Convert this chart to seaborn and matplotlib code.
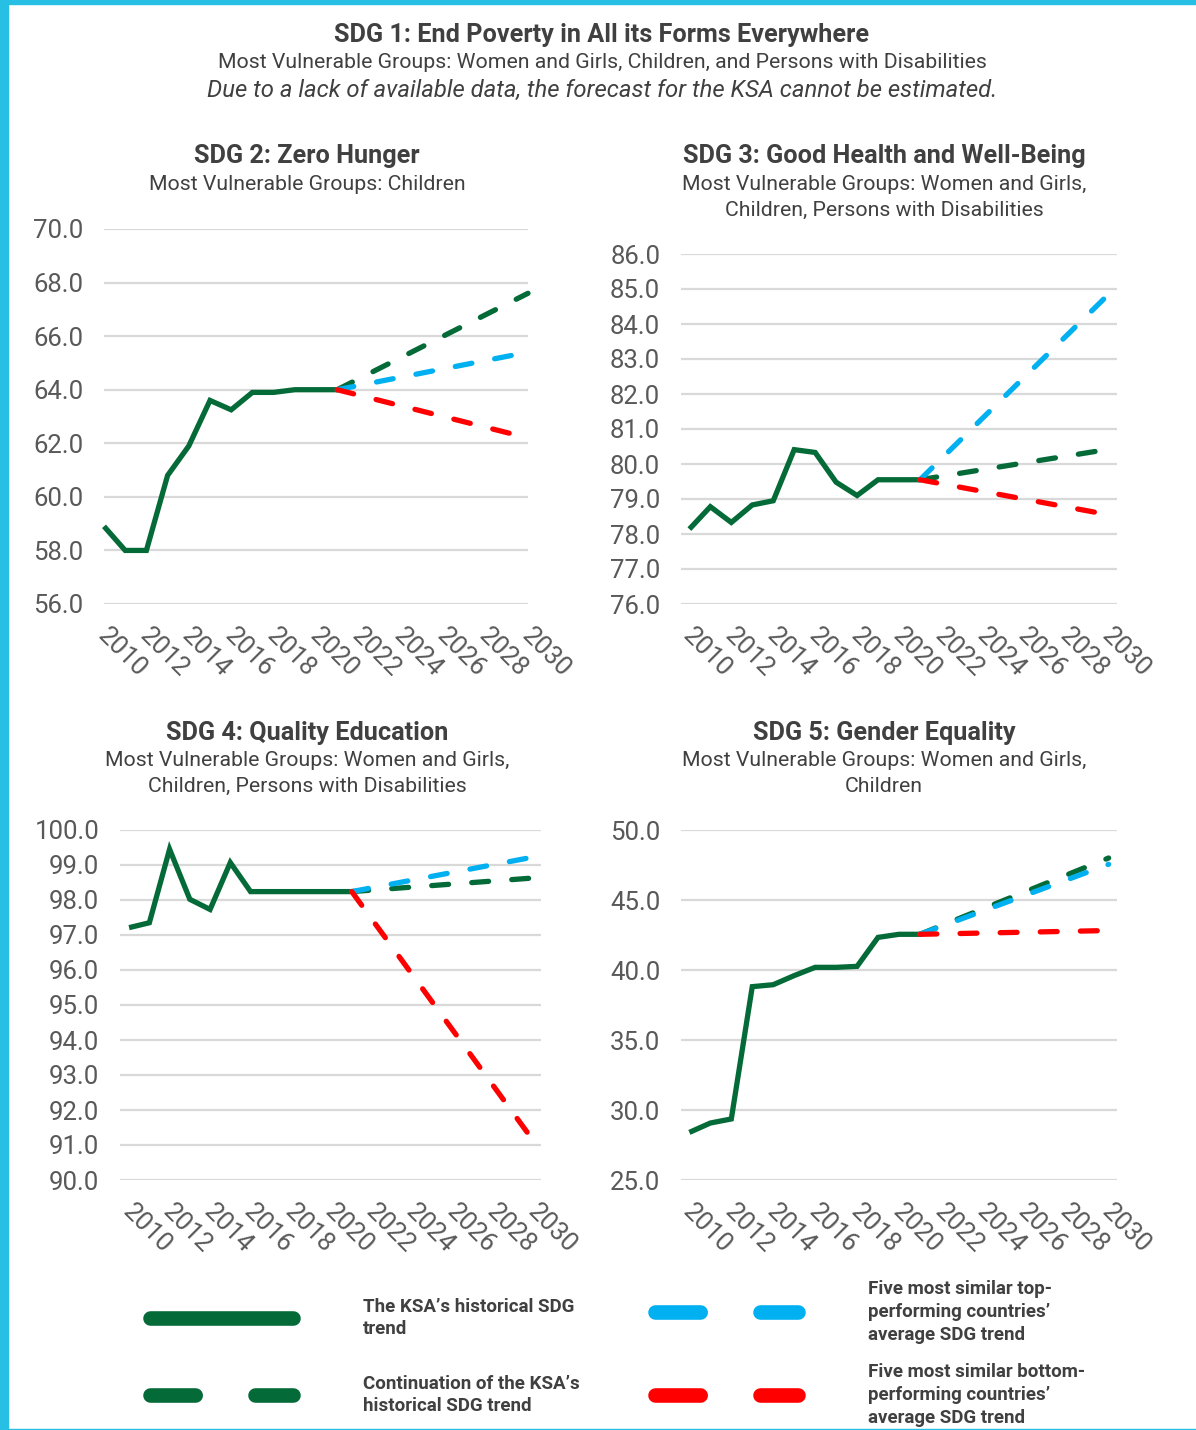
import numpy as np
import pandas as pd
import matplotlib
matplotlib.use("Agg")
import matplotlib.pyplot as plt
import matplotlib.transforms as mtransforms
from matplotlib.lines import Line2D
from matplotlib.patches import Rectangle
import seaborn as sns

# ---------------- data ----------------
years_hist = [2010, 2011, 2012, 2013, 2014, 2015, 2016, 2017, 2018, 2019, 2020, 2021]
years_fc = [2021, 2030]

sdg2_hist = [58.9, 58.0, 58.0, 60.8, 61.9, 63.6, 63.25, 63.9, 63.9, 64.0, 64.0, 64.0]
sdg2_cont = [64.0, 67.6]
sdg2_top = [64.0, 65.4]
sdg2_bottom = [64.0, 62.2]

sdg3_hist = [78.14, 78.78, 78.33, 78.83, 78.95, 80.41, 80.33, 79.48, 79.1, 79.55, 79.55, 79.55]
sdg3_cont = [79.55, 80.42]
sdg3_top = [79.55, 84.85]
sdg3_bottom = [79.55, 78.55]

sdg4_hist = [97.21, 97.35, 99.45, 98.02, 97.73, 99.07, 98.24, 98.24, 98.24, 98.24, 98.24, 98.24]
sdg4_cont = [98.24, 98.63]
sdg4_top = [98.24, 99.23]
sdg4_bottom = [98.24, 91.1]

sdg5_hist = [28.4, 29.07, 29.36, 38.81, 38.95, 39.6, 40.19, 40.19, 40.26, 42.33, 42.55, 42.55]
sdg5_cont = [42.55, 48.0]
sdg5_top = [42.55, 47.55]
sdg5_bottom = [42.55, 42.82]

x_ticks = list(range(2010, 2031, 2))

main_title = "SDG 1: End Poverty in All its Forms Everywhere"
main_sub = "Most Vulnerable Groups: Women and Girls, Children, and Persons with Disabilities"
main_note = "Due to a lack of available data, the forecast for the KSA cannot be estimated."

legend_labels = [
    "The KSA\u2019s historical SDG\ntrend",
    "Continuation of the KSA\u2019s\nhistorical SDG trend",
    "Five most similar top-\nperforming countries\u2019\naverage SDG trend",
    "Five most similar bottom-\nperforming countries\u2019\naverage SDG trend",
]

# ---------------- style ----------------
sns.set_style("white")
plt.rcParams["font.family"] = ["Roboto", "DejaVu Sans"]

GREEN = "#046A38"
BLUE = "#00B0F0"
RED = "#FF0000"
FRAME = "#28BFE4"
TXT = "#404040"
TICK = "#595959"
GRID = "#D9D9D9"

TITLE_FS = 18.2
SUB_FS = 15.3
NOTE_FS = 17.2
TICK_FS = 18.5
LEG_FS = 13.5

W, H = 1196, 1430
fig = plt.figure(figsize=(W / 100, H / 100), dpi=100)


def fx(px):
    return px / W


def fy(py):
    return 1 - py / H


def add_axes(l, t, r, b):
    return fig.add_axes([fx(l), fy(b), fx(r) - fx(l), fy(t) - fy(b)])


panels = [
    dict(box=(104, 229, 528, 604), hist=sdg2_hist, cont=sdg2_cont, top=sdg2_top, bot=sdg2_bottom,
         yt=np.arange(56, 70.1, 2), xlim=(2010, 2030)),
    dict(box=(681, 254, 1117, 604), hist=sdg3_hist, cont=sdg3_cont, top=sdg3_top, bot=sdg3_bottom,
         yt=np.arange(76, 86.1, 1), xlim=(2009.6, 2030.4)),
    dict(box=(120, 830, 541, 1180), hist=sdg4_hist, cont=sdg4_cont, top=sdg4_top, bot=sdg4_bottom,
         yt=np.arange(90, 100.1, 1), xlim=(2009.55, 2030.35)),
    dict(box=(681, 830, 1117, 1180), hist=sdg5_hist, cont=sdg5_cont, top=sdg5_top, bot=sdg5_bottom,
         yt=np.arange(25, 50.1, 5), xlim=(2009.6, 2030.4)),
]

LW = 3.8
DASH = (0, (3.2, 4.4))
label_shift = mtransforms.ScaledTranslation(6 / 100, 0, fig.dpi_scale_trans)

for p in panels:
    ax = add_axes(*p["box"])
    sns.lineplot(x=years_hist, y=p["hist"], ax=ax, color=GREEN, linewidth=LW,
                 estimator=None, sort=False, solid_joinstyle="miter", solid_capstyle="butt")
    for vals, col in [(p["cont"], GREEN), (p["top"], BLUE), (p["bot"], RED)]:
        sns.lineplot(x=years_fc, y=vals, ax=ax, color=col, linewidth=LW, linestyle=DASH,
                     estimator=None, sort=False, dash_capstyle="round")
    ax.set_xlim(*p["xlim"])
    ax.set_ylim(p["yt"][0], p["yt"][-1])
    ax.set_yticks(p["yt"])
    ax.set_yticklabels([f"{v:.1f}" for v in p["yt"]])
    ax.set_xticks(x_ticks)
    ax.set_xticklabels([str(v) for v in x_ticks], rotation=-45, ha="left", va="top",
                       rotation_mode="anchor")
    ax.tick_params(axis="both", length=0, labelsize=TICK_FS, labelcolor=TICK)
    ax.tick_params(axis="y", pad=15)
    ax.tick_params(axis="x", pad=14)
    for lab in ax.get_xticklabels():
        lab.set_transform(lab.get_transform() + label_shift)
    ax.grid(axis="y", color=GRID, linewidth=1.6)
    ax.grid(axis="x", visible=False)
    ax.set_axisbelow(True)
    for s in ax.spines.values():
        s.set_visible(False)
    ax.set_xlabel("")
    ax.set_ylabel("")
    ax.patch.set_alpha(0)
    for ln in ax.lines:
        ln.set_clip_on(False)

# ---------------- titles ----------------
def t(x, y, s, size, weight="normal", style="normal"):
    fig.text(fx(x), fy(y), s, ha="center", va="center", fontsize=size, fontweight=weight,
             fontstyle=style, color=TXT)

t(602, 35, main_title, TITLE_FS, "bold")
t(602, 62, main_sub, SUB_FS)
t(602, 90, main_note, NOTE_FS, style="italic")

t(307, 156, "SDG 2: Zero Hunger", TITLE_FS, "bold")
t(307, 184, "Most Vulnerable Groups: Children", SUB_FS)

t(884, 156, "SDG 3: Good Health and Well-Being", TITLE_FS, "bold")
t(884, 184, "Most Vulnerable Groups: Women and Girls,", SUB_FS)
t(884, 210, "Children, Persons with Disabilities", SUB_FS)

t(307, 733, "SDG 4: Quality Education", TITLE_FS, "bold")
t(307, 760, "Most Vulnerable Groups: Women and Girls,", SUB_FS)
t(307, 786, "Children, Persons with Disabilities", SUB_FS)

t(884, 733, "SDG 5: Gender Equality", TITLE_FS, "bold")
t(884, 760, "Most Vulnerable Groups: Women and Girls,", SUB_FS)
t(884, 786, "Children", SUB_FS)

# ---------------- legend ----------------
LEG_LW = 10.5
LEG_DASH = (0, (3.1, 4.1))
handles = [
    Line2D([], [], color=GREEN, linewidth=LEG_LW, solid_capstyle="round"),
    Line2D([], [], color=GREEN, linewidth=LEG_LW, linestyle=LEG_DASH, dash_capstyle="round"),
    Line2D([], [], color=BLUE, linewidth=LEG_LW, linestyle=LEG_DASH, dash_capstyle="round"),
    Line2D([], [], color=RED, linewidth=LEG_LW, linestyle=LEG_DASH, dash_capstyle="round"),
]
leg_pos = [(150, 1318), (150, 1395), (655, 1312), (655, 1395)]
fs_px = LEG_FS * 100 / 72
for h, lab, (lx, ly) in zip(handles, legend_labels, leg_pos):
    leg = fig.legend([h], [lab], loc="center left", bbox_to_anchor=(fx(lx), fy(ly)),
                     frameon=False, handlelength=143 / fs_px, handletextpad=70 / fs_px,
                     borderpad=0, borderaxespad=0,
                     prop={"weight": "bold", "size": LEG_FS})
    for txt in leg.get_texts():
        txt.set_color(TXT)
        txt.set_linespacing(1.35)

# ---------------- frame ----------------
fig.patches.append(Rectangle((0, 0), fx(8), 1, transform=fig.transFigure, color=FRAME, zorder=10))
fig.patches.append(Rectangle((0, fy(4)), 1, 4 / H, transform=fig.transFigure, color=FRAME, zorder=10))
fig.patches.append(Rectangle((0, 0), 1, 1.5 / H, transform=fig.transFigure, color=FRAME, zorder=10))

fig.savefig("out.png", dpi=100)
